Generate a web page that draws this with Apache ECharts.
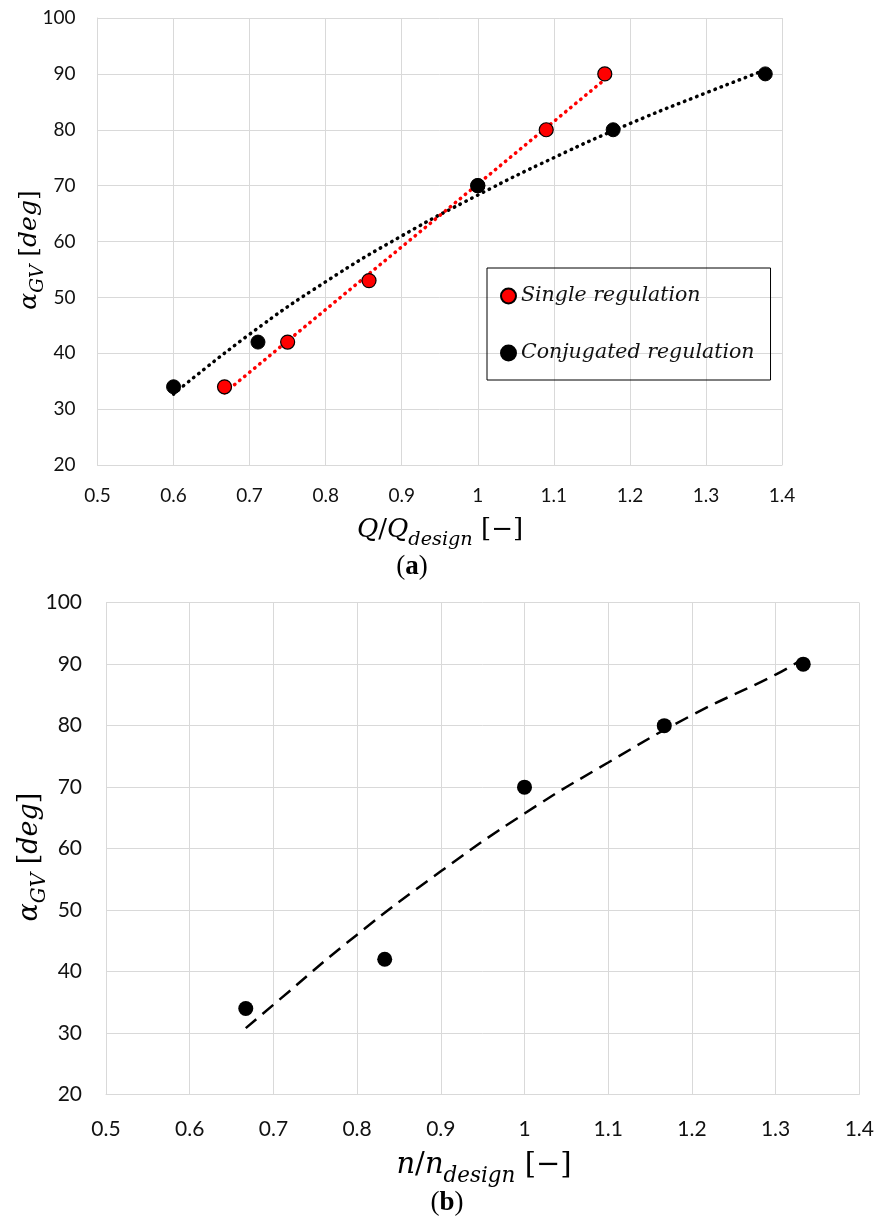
<!DOCTYPE html>
<html>
<head>
<meta charset="utf-8">
<style>
html,body{margin:0;padding:0;background:#fff;}
#chart{width:879px;height:1223px;}
</style>
<script src="https://cdn.jsdelivr.net/npm/echarts@6/dist/echarts.min.js"></script>
</head>
<body>
<div id="chart"></div>
<script>
// ---- data ----
const singleQ = [0.667, 0.75, 0.857, 1.0, 1.09, 1.167];
const singleAlpha = [34, 42, 53, 70, 80, 90];
const conjQ = [0.6, 0.711, 1.0, 1.178, 1.378];
const conjAlpha = [34, 42, 70, 80, 90];
const singleTrendQ = [0.667, 1.167];
const singleTrendAlpha = [32.9, 89.0];
const conjTrendQ = [0.6, 0.7, 0.8, 0.9, 1.0, 1.1, 1.2, 1.3, 1.378];
const conjTrendAlpha = [32.7, 43.4, 52.8, 61.0, 68.3, 75.0, 81.1, 86.6, 90.7];
const speedN = [0.667, 0.833, 1.0, 1.167, 1.333];
const speedAlpha = [34, 42, 70, 80, 90];
const speedTrendN = [0.667, 0.7, 0.8, 0.9, 1.0, 1.1, 1.2, 1.3, 1.333];
const speedTrendAlpha = [30.8, 34.6, 46.0, 56.3, 65.7, 74.0, 81.7, 88.3, 90.9];
const xMin = 0.5, xMax = 1.4, xStep = 0.1;
const yMin = 20, yMax = 100, yStep = 10;
const seriesNames = ['Single regulation', 'Conjugated regulation'];

const zip = (a, b) => a.map((v, i) => [v, b[i]]);

const chart = echarts.init(document.getElementById('chart'));
const grid = '#d9d9d9';
const labelFont = 'Lato, "Open Sans", sans-serif';
const mathFont = '"DejaVu Serif", serif';

function xAxis(idx, size, margin) {
  return {
    type: 'value', gridIndex: idx, min: xMin, max: xMax, interval: xStep,
    axisLine: {show: true, lineStyle: {color: grid, width: 1}},
    axisTick: {show: false},
    splitLine: {show: true, lineStyle: {color: grid, width: 1}},
    axisLabel: {color: '#111', fontFamily: labelFont, fontSize: size, margin: margin}
  };
}
function yAxis(idx, size, margin) {
  return {
    type: 'value', gridIndex: idx, min: yMin, max: yMax, interval: yStep,
    axisLine: {show: true, lineStyle: {color: grid, width: 1}},
    axisTick: {show: false},
    splitLine: {show: true, lineStyle: {color: grid, width: 1}},
    axisLabel: {color: '#111', fontFamily: labelFont, fontSize: size, margin: margin}
  };
}

function mathRich(size) {
  return {
    m: {fontFamily: mathFont, fontStyle: 'italic', fontSize: size, color: '#111', lineHeight: size * 1.5, verticalAlign: 'middle'},
    r: {fontFamily: mathFont, fontSize: size, color: '#111', lineHeight: size * 1.5, verticalAlign: 'middle'},
    s: {fontFamily: mathFont, fontStyle: 'italic', fontSize: size * 0.74, color: '#111', lineHeight: size * 1.15, verticalAlign: 'bottom'}
  };
}
function caption(x, y, letter) {
  return {
    type: 'text', x: x, y: y,
    style: {
      text: '{p|(}{b|' + letter + '}{p|)}',
      align: 'center', verticalAlign: 'middle',
      rich: {
        p: {fontFamily: '"Liberation Serif", serif', fontSize: 27, color: '#111'},
        b: {fontFamily: '"Liberation Serif", serif', fontSize: 27, fontWeight: 'bold', color: '#111'}
      }
    }
  };
}

const option = {
  animation: false,
  backgroundColor: '#fff',
  grid: [
    {left: 97.5, top: 18, width: 684.5, height: 447},
    {left: 106, top: 602.7, width: 753.3, height: 491.8}
  ],
  xAxis: [xAxis(0, 19, 21), xAxis(1, 21, 24)],
  yAxis: [yAxis(0, 19, 22), yAxis(1, 21, 24)],
  legend: {
    data: seriesNames,
    orient: 'vertical',
    left: 487, top: 268,
    borderColor: '#000', borderWidth: 1,
    padding: [18, 16, 17, 13],
    itemGap: 37, itemWidth: 15, itemHeight: 15,
    icon: 'circle',
    textStyle: {fontFamily: mathFont, fontStyle: 'italic', fontSize: 20.5, color: '#111'}
  },
  graphic: [
    {
      type: 'text', x: 29, y: 250, rotation: Math.PI / 2,
      style: {text: '{m|α}{s|GV}{r| [}{m|deg}{r|]}', rich: mathRich(25), align: 'center', verticalAlign: 'middle'}
    },
    {
      type: 'text', x: 440, y: 530,
      style: {text: '{m|Q}{r|/}{m|Q}{s|design}{r| [−]}', rich: mathRich(26), align: 'center', verticalAlign: 'middle'}
    },
    {
      type: 'text', x: 30, y: 857, rotation: Math.PI / 2,
      style: {text: '{m|α}{s|GV}{r| [}{m|deg}{r|]}', rich: mathRich(27), align: 'center', verticalAlign: 'middle'}
    },
    {
      type: 'text', x: 484, y: 1165,
      style: {text: '{m|n}{r|/}{m|n}{s|design}{r| [−]}', rich: mathRich(29), align: 'center', verticalAlign: 'middle'}
    },
    caption(412, 567, 'a'),
    caption(447, 1203, 'b')
  ],
  series: [
    {
      type: 'line', xAxisIndex: 0, yAxisIndex: 0, data: zip(conjTrendQ, conjTrendAlpha),
      smooth: true, symbol: 'none', silent: true, z: 1,
      lineStyle: {color: '#000', width: 3.5, type: [0.5, 6], cap: 'round'}
    },
    {
      type: 'line', xAxisIndex: 0, yAxisIndex: 0, data: zip(singleTrendQ, singleTrendAlpha),
      symbol: 'none', silent: true, z: 1,
      lineStyle: {color: '#ff0000', width: 3.5, type: [0.5, 6], cap: 'round'}
    },
    {
      name: seriesNames[0], type: 'scatter', xAxisIndex: 0, yAxisIndex: 0,
      data: zip(singleQ, singleAlpha), symbol: 'circle', symbolSize: 14, z: 3,
      itemStyle: {color: '#ff0000', borderColor: '#000', borderWidth: 1.2, opacity: 1}
    },
    {
      name: seriesNames[1], type: 'scatter', xAxisIndex: 0, yAxisIndex: 0,
      data: zip(conjQ, conjAlpha), symbol: 'circle', symbolSize: 14, z: 3,
      itemStyle: {color: '#000', borderColor: '#000', borderWidth: 1, opacity: 1}
    },
    {
      type: 'line', xAxisIndex: 1, yAxisIndex: 1, data: zip(speedTrendN, speedTrendAlpha),
      smooth: true, symbol: 'none', silent: true, z: 1,
      lineStyle: {color: '#000', width: 2.5, type: [14, 8]}
    },
    {
      name: 'speed', type: 'scatter', xAxisIndex: 1, yAxisIndex: 1,
      data: zip(speedN, speedAlpha), symbol: 'circle', symbolSize: 15, z: 3,
      itemStyle: {color: '#000', opacity: 1}
    }
  ]
};
chart.setOption(option);
</script>
</body>
</html>
